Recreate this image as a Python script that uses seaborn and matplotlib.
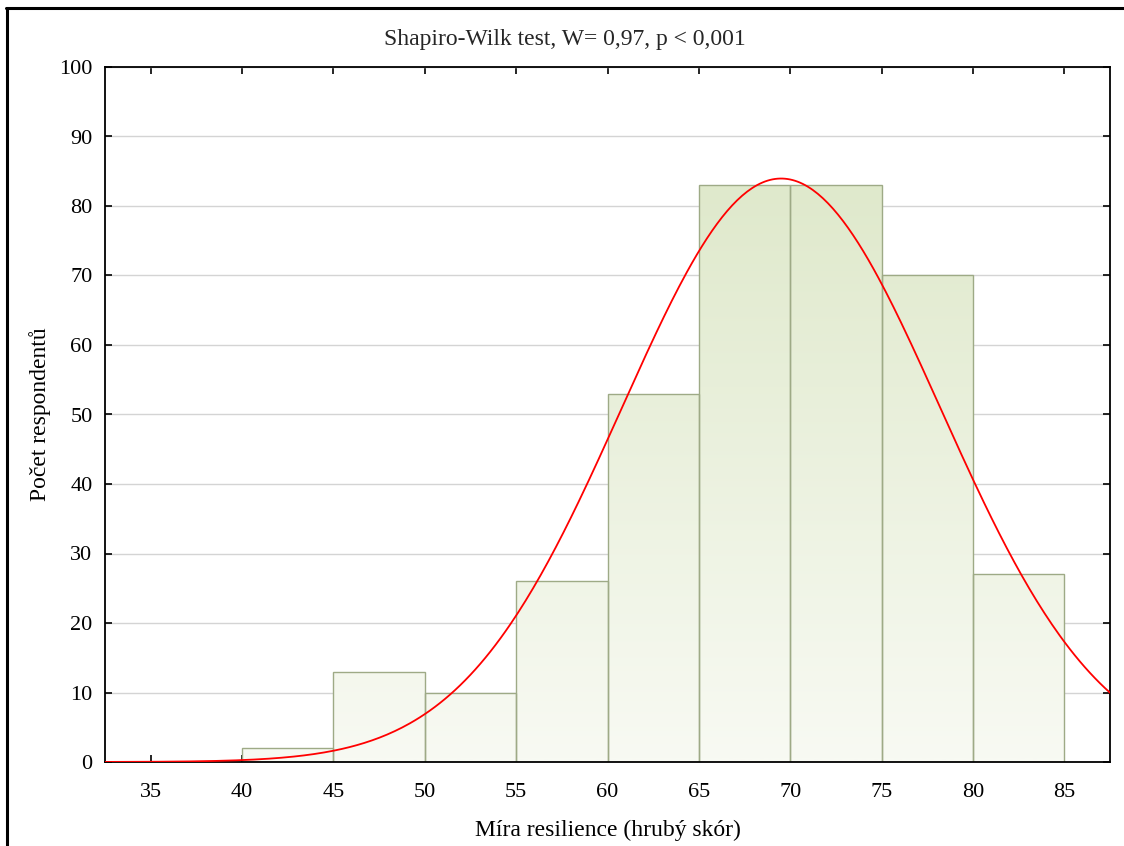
import matplotlib
matplotlib.use("Agg")
import matplotlib.pyplot as plt
from matplotlib.lines import Line2D
import numpy as np
import pandas as pd
import seaborn as sns

# histogram data (bin edges, counts)
bin_edges = [40, 45, 50, 55, 60, 65, 70, 75, 80, 85]
counts = [2, 13, 10, 26, 53, 83, 83, 70, 27]
# fitted normal curve parameters
fit_mean = 69.5
fit_sd = 8.72

x_ticks = [35, 40, 45, 50, 55, 60, 65, 70, 75, 80, 85]
y_ticks = [0, 10, 20, 30, 40, 50, 60, 70, 80, 90, 100]
title = "Shapiro-Wilk test, W= 0,97, p < 0,001"
x_label = "Míra resilience (hrubý skór)"
y_label = "Počet respondentů"

sns.set_theme(style="white")
plt.rcParams["font.family"] = ["Liberation Serif", "DejaVu Serif"]

W, H = 1124, 846
fig = plt.figure(figsize=(W / 100, H / 100), dpi=100)
ax = fig.add_axes([105 / W, 1 - 762 / H, (1110 - 105) / W, (762 - 67) / H])

df = pd.DataFrame({
    "center": [(a + b) / 2 for a, b in zip(bin_edges[:-1], bin_edges[1:])],
    "count": counts,
})
sns.histplot(data=df, x="center", weights="count", bins=bin_edges, ax=ax,
             color="#e8efdc", edgecolor="#9eaa86", linewidth=1.0, alpha=1,
             zorder=2)

ax.set_xlim(32.5, 87.5)
ax.set_ylim(0, 100)

# vertical gradient fill clipped to each bar
grad = np.linspace(0, 1, 256).reshape(-1, 1)
cmap = matplotlib.colors.LinearSegmentedColormap.from_list(
    "g", ["#f8faf3", "#d8e4c0"])
for p in list(ax.patches):
    im = ax.imshow(grad, extent=[32.5, 87.5, 0, 100], origin="lower",
                   cmap=cmap, aspect="auto", zorder=2.1, vmin=0, vmax=1.08)
    im.set_clip_path(p)
    p.set_facecolor("none")
    p.set_zorder(2.2)
ax.set_xlim(32.5, 87.5)
ax.set_ylim(0, 100)

# normal curve
n_total = sum(counts)
bw = bin_edges[1] - bin_edges[0]
xs = np.linspace(32.5, 87.5, 400)
ys = n_total * bw / (fit_sd * np.sqrt(2 * np.pi)) * np.exp(-0.5 * ((xs - fit_mean) / fit_sd) ** 2)
sns.lineplot(x=xs, y=ys, ax=ax, color="#ff0000", linewidth=1.3, zorder=3)

ax.set_xticks(x_ticks)
ax.set_yticks(y_ticks)
ax.grid(axis="y", color="#d4d4d4", linewidth=1.0, zorder=0)
ax.set_axisbelow(True)
ax.tick_params(direction="in", length=5, width=1.2, labelsize=16, colors="black",
               top=True, right=True, bottom=True, left=True)
ax.tick_params(axis="x", pad=15)
ax.tick_params(axis="y", pad=9)
for s in ax.spines.values():
    s.set_color("black")
    s.set_linewidth(1.3)

ax.set_xlabel(x_label, fontsize=17, labelpad=13, color="black")
ax.set_ylabel(y_label, fontsize=17, labelpad=6, color="black")
fig.text(565 / W, 1 - 39 / H, title, ha="center", va="center", fontsize=17)

# outer frame
fig.add_artist(Line2D([6 / W, 1], [1 - 8.5 / H, 1 - 8.5 / H], color="black", linewidth=2.2,
                      transform=fig.transFigure))
fig.add_artist(Line2D([7 / W, 7 / W], [0, 1 - 8.5 / H], color="black", linewidth=2.2,
                      transform=fig.transFigure))

fig.savefig("out.png", dpi=100)
